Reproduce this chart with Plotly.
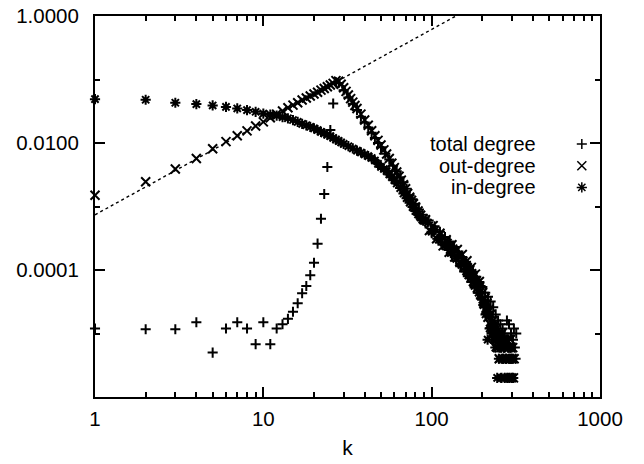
import plotly.graph_objects as go

# ---------------- data ----------------
TOTAL_K = [1, 2, 3, 4, 5, 6, 7, 8, 9, 10, 11, 12, 13, 14, 15, 16, 17, 18, 19, 20,
           21, 22, 23, 24, 25, 26, 27,
           28, 30, 32, 34, 36, 38, 40, 42, 44, 46, 48, 50, 53, 56, 59, 62, 65, 68,
           71, 74, 77, 80, 84, 88,
           92, 96, 100, 104, 108, 112, 116, 120, 124, 128, 132, 136, 140, 144, 148,
           152, 156, 160, 164, 168, 172, 176, 180, 184, 188, 192, 196, 200, 204,
           208, 212, 216, 220, 224, 228, 232, 236, 240, 244, 248, 252, 256, 260,
           264, 268, 272, 276, 280, 284, 288, 292, 296, 300, 304, 308, 312, 315, 318]
TOTAL_P = [1.2e-5, 1.17e-5, 1.17e-5, 1.5e-5, 5e-6, 1.2e-5, 1.5e-5, 1.2e-5, 6.8e-6,
           1.5e-5, 6.8e-6, 1.2e-5, 1.4e-5, 1.7e-5, 2.2e-5, 3.0e-5, 4.3e-5, 5.6e-5,
           8.3e-5, 1.3e-4, 2.6e-4, 6.4e-4, 1.57e-3, 4.2e-3, 1.6e-2, 4.2e-2, 9.0e-2,
           0.088, 0.068, 0.052, 0.041, 0.033, 0.026, 0.021, 0.0175, 0.0145, 0.012,
           0.010, 0.0086, 0.0068, 0.0055, 0.0044, 0.0036, 0.0029, 0.0024, 0.0019,
           0.0015, 0.0013, 0.0011, 9.0e-4, 7.4e-4,
           5.4e-4, 6.0e-4, 3.8e-4, 4.9e-4, 3.1e-4, 4.0e-4, 2.5e-4, 3.3e-4, 2.1e-4,
           2.8e-4, 1.7e-4, 2.3e-4, 1.4e-4, 1.95e-4, 1.15e-4, 1.6e-4, 9.5e-5, 1.35e-4,
           8.0e-5, 1.15e-4, 6.5e-5, 9.4e-5, 5.3e-5, 7.8e-5, 4.4e-5, 6.5e-5, 3.6e-5,
           5.4e-5, 2.8e-5, 4.4e-5, 2.2e-5, 3.8e-5, 1.8e-5, 3.2e-5, 1.4e-5, 2.6e-5,
           1.0e-5, 2.0e-5, 8e-6, 1.6e-5, 6e-6, 1.4e-5, 4e-6, 1.2e-5, 6e-6, 1.0e-5,
           4e-6, 1.6e-5, 8e-6, 1.4e-5, 6e-6, 1.0e-5, 4e-6, 8e-6, 1.2e-5, 6e-6, 4e-6,
           1.0e-5]

OUT_K = [1, 2, 3, 4, 5, 6, 7, 8, 9, 10, 11, 12, 13, 14, 15, 16, 17, 18, 19, 20,
         21, 22, 23, 24, 25, 26, 27,
         28, 29, 30, 31, 32, 33, 34, 35, 36, 38, 40, 42, 44, 46, 48, 50, 52, 54,
         56, 58, 60, 62, 64, 66, 68, 70, 72, 74, 76, 78, 80, 83, 86, 89,
         92, 97, 102, 107, 112, 117, 122, 127, 132, 137, 142, 147, 152, 157, 162,
         167, 172, 177, 182, 187, 192, 197,
         201, 204, 207, 210, 213, 216, 219, 222, 225, 228, 231, 234, 237, 240,
         243, 246, 249, 252, 255, 258, 261, 264, 267, 270, 273, 276, 279, 282,
         285, 288, 291, 294, 297, 300, 303, 306, 309]
OUT_P = [1.5e-3, 2.45e-3, 3.9e-3, 5.7e-3, 8.1e-3, 1.05e-2, 1.3e-2, 1.55e-2, 1.85e-2,
         2.15e-2, 2.5e-2, 2.85e-2, 3.2e-2, 3.6e-2, 3.95e-2, 4.3e-2, 4.75e-2, 5.1e-2,
         5.5e-2, 5.9e-2, 6.3e-2, 6.8e-2, 7.2e-2, 7.7e-2, 8.2e-2, 8.7e-2, 9.6e-2,
         0.094, 0.084, 0.074, 0.065, 0.057, 0.050, 0.044, 0.039, 0.035, 0.0285,
         0.0230, 0.0190, 0.0156, 0.0130, 0.0110, 0.0093, 0.0078, 0.0067,
         0.0057, 0.0048, 0.0041, 0.0035, 0.0030, 0.0026, 0.0022, 0.0019, 0.0016,
         0.0014, 0.00125, 0.0011, 9.8e-4, 8.5e-4, 7.3e-4, 6.4e-4,
         6.2e-4, 4.2e-4, 5.0e-4, 3.1e-4, 3.8e-4, 2.4e-4, 3.0e-4, 1.9e-4, 2.5e-4,
         1.6e-4, 2.1e-4, 1.35e-4, 1.75e-4, 1.1e-4, 1.4e-4, 8.5e-5, 1.1e-4, 6.6e-5,
         8.6e-5, 5.2e-5, 6.6e-5, 4.0e-5,
         4.4e-5, 3.0e-5, 3.6e-5, 2.4e-5, 3.0e-5, 1.8e-5, 2.4e-5, 1.4e-5, 2.0e-5,
         1.2e-5, 1.6e-5, 1.0e-5, 1.4e-5, 8e-6, 1.2e-5, 6e-6, 1.0e-5, 4e-6, 8e-6,
         6e-6, 1.0e-5, 4e-6, 8e-6, 2e-6, 6e-6, 4e-6, 8e-6, 4e-6, 2e-6, 6e-6, 4e-6,
         8e-6, 2e-6, 4e-6, 6e-6, 2e-6, 4e-6]

IN_K = [1, 2, 3, 4, 5, 6, 7, 8, 9, 10, 11, 12, 13, 14, 15, 16, 17, 18, 19, 20,
        21, 22, 23, 24, 25, 26, 27, 28, 29, 30,
        32, 34, 36, 38, 40, 42, 44, 46, 48, 50, 52, 54, 56, 58, 60, 62, 65, 68,
        71, 74, 77, 80, 83, 86, 89,
        95, 100, 105, 110, 115, 120, 125, 130, 135, 140, 145, 150, 155, 160, 165,
        170, 175, 180, 185, 190, 195,
        200, 203, 206, 209, 212, 215, 218, 221, 224, 227, 230, 233, 236, 239,
        242, 245, 248, 251, 254, 257, 260, 263, 266, 269, 272, 275, 278, 281,
        284, 287, 290, 293, 296, 299, 302, 305]
IN_P = [4.9e-2, 4.8e-2, 4.3e-2, 4.1e-2, 3.9e-2, 3.7e-2, 3.5e-2, 3.3e-2, 3.1e-2,
        2.9e-2, 2.8e-2, 2.7e-2, 2.55e-2, 2.45e-2, 2.3e-2, 2.15e-2, 2.0e-2, 1.9e-2,
        1.8e-2, 1.7e-2, 1.6e-2, 1.5e-2, 1.42e-2, 1.35e-2, 1.28e-2, 1.2e-2, 1.13e-2,
        1.08e-2, 1.02e-2, 9.7e-3,
        8.9e-3, 8.2e-3, 7.6e-3, 7.1e-3, 6.6e-3, 6.2e-3, 5.8e-3, 5.3e-3, 4.7e-3,
        4.2e-3, 3.9e-3, 3.6e-3, 3.2e-3, 2.9e-3, 2.6e-3, 2.3e-3, 1.95e-3, 1.6e-3,
        1.35e-3, 1.15e-3, 9.8e-4, 8.5e-4, 7.5e-4, 6.7e-4, 6.0e-4,
        5.6e-4, 4.0e-4, 4.3e-4, 3.0e-4, 3.3e-4, 2.4e-4, 2.7e-4, 1.85e-4, 2.2e-4,
        1.5e-4, 1.75e-4, 1.2e-4, 1.4e-4, 9.5e-5, 1.12e-4, 7.4e-5, 9.0e-5, 5.6e-5,
        7.0e-5, 4.4e-5, 5.6e-5,
        3.4e-5, 2.8e-5, 3.0e-5, 2.0e-5, 2.6e-5, 8e-6, 2.2e-5, 1.2e-5, 1.8e-5,
        1.0e-5, 1.4e-5, 8e-6, 1.2e-5, 6e-6, 1.0e-5, 2e-6, 8e-6, 4e-6, 1.0e-5,
        6e-6, 2e-6, 8e-6, 4e-6, 6e-6, 2e-6, 4e-6, 8e-6, 2e-6, 6e-6, 4e-6, 2e-6,
        4e-6, 6e-6, 2e-6, 4e-6, 2e-6]

# power-law guide line  P(k) = FIT_A * k^FIT_EXP
FIT_A = 7.4e-4
FIT_EXP = 1.46
FIT_K = [1, 1000]

LEGEND_LABELS = ["total degree", "out-degree", "in-degree"]

X_TICKS = [1, 10, 100, 1000]
X_TICK_TEXT = ["1", "10", "100", "1000"]
X_MINOR = [m * d for d in (1, 10, 100) for m in range(2, 10)]
Y_TICKS = [1e-4, 1e-2, 1]
Y_TICK_TEXT = ["0.0001", "0.0100", "1.0000"]
Y_MINOR = [1e-5, 1e-3, 1e-1]

# ---------------- figure ----------------
FONT = "Liberation Sans, Arial, Helvetica, sans-serif"
BLACK = "#000000"
MLW = 2

STYLES = [
    dict(symbol="cross-thin-open", size=7.2),
    dict(symbol="x-thin-open", size=9),
    dict(symbol="asterisk-open", size=8.5),
]

fig = go.Figure()

fit_p = [FIT_A * k ** FIT_EXP for k in FIT_K]
fig.add_trace(go.Scatter(x=FIT_K, y=fit_p, mode="lines",
                         line=dict(color=BLACK, width=1.4, dash="dot"),
                         showlegend=False, hoverinfo="skip"))

for (ks, ps), st in zip([(TOTAL_K, TOTAL_P), (OUT_K, OUT_P), (IN_K, IN_P)], STYLES):
    fig.add_trace(go.Scatter(
        x=ks, y=ps, mode="markers", cliponaxis=False, showlegend=False,
        marker=dict(symbol=st["symbol"], size=st["size"], color=BLACK,
                    line=dict(color=BLACK, width=MLW))))

# legend (gnuplot style: text left, symbol right)
LEG_TEXT_X = 0.875
LEG_SYM_X = 0.964
LEG_Y = [0.664, 0.607, 0.550]
for lab, st, yy in zip(LEGEND_LABELS, STYLES, LEG_Y):
    fig.add_annotation(x=LEG_TEXT_X, y=yy, xref="paper", yref="paper",
                       text=lab, showarrow=False, xanchor="right", yanchor="middle",
                       borderpad=0, font=dict(family=FONT, size=20, color=BLACK))
    fig.add_trace(go.Scatter(
        x=[LEG_SYM_X], y=[yy], xaxis="x2", yaxis="y2", mode="markers",
        showlegend=False, hoverinfo="skip", cliponaxis=False,
        marker=dict(symbol=st["symbol"], size=st["size"], color=BLACK,
                    line=dict(color=BLACK, width=1.5))))

axis_common = dict(
    showgrid=False, zeroline=False, showline=True, linecolor=BLACK, linewidth=2,
    mirror="ticks", ticks="inside", ticklen=10, tickwidth=1.5, tickcolor=BLACK,
    tickfont=dict(family=FONT, size=20.5, color=BLACK), automargin=False,
)

fig.update_layout(
    width=644, height=464,
    margin=dict(l=95, r=44, t=16, b=67),
    paper_bgcolor="white", plot_bgcolor="white",
    showlegend=False,
    xaxis=dict(type="log", range=[0, 3], tickmode="array",
               tickvals=X_TICKS, ticktext=X_TICK_TEXT,
               minor=dict(tickmode="array", tickvals=X_MINOR, ticks="inside",
                          ticklen=5, tickwidth=1.5, tickcolor=BLACK),
               title=dict(text="k", font=dict(family=FONT, size=21, color=BLACK),
                          standoff=12),
               ticklabelstandoff=2,
               **axis_common),
    yaxis=dict(type="log", range=[-6, 0], tickmode="array",
               tickvals=Y_TICKS, ticktext=Y_TICK_TEXT,
               minor=dict(tickmode="array", tickvals=Y_MINOR, ticks="inside",
                          ticklen=5, tickwidth=1.5, tickcolor=BLACK),
               ticklabelstandoff=10,
               **axis_common),
    xaxis2=dict(overlaying="x", range=[0, 1], visible=False, anchor="y2"),
    yaxis2=dict(overlaying="y", range=[0, 1], visible=False, anchor="x2"),
)

fig.write_html("out.html")
